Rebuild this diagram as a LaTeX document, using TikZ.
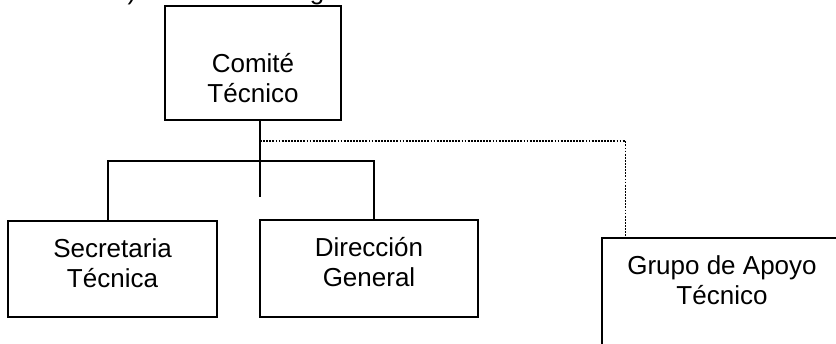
\documentclass[tikz,border=0pt]{standalone}
\usepackage{fontspec}
\setmainfont{Liberation Sans}
\begin{document}
\begin{tikzpicture}[x=1pt,y=-1pt,
  box/.style={draw=black, line width=1.1pt, rectangle, inner sep=0pt},
  txt/.style={font=\fontsize{26}{30}\selectfont, align=center, inner sep=0pt, text=black},
  ttl/.style={font=\fontsize{26}{30}\selectfont, inner sep=0pt, text=black},
  link/.style={draw=black, line width=1.1pt},
  dots/.style={draw=black, line width=1.6pt, dash pattern=on 1.8pt off 1.3pt}]
\useasboundingbox (0,0) rectangle (836,343);
% title (cut off at the top edge)
\node[ttl, anchor=base west] (num) at (113,-0.8) {3)};
\node[ttl, anchor=base west] (title) at (155,-0.8) {Estructura Organizacional actual};
% boxes
\node[box, minimum width=176pt, minimum height=114pt] (top) at (253,63) {};
\node[box, minimum width=209pt, minimum height=96pt] (sec) at (112.5,269) {};
\node[box, minimum width=218pt, minimum height=97pt] (dir) at (369,268.5) {};
\node[box, minimum width=240pt, minimum height=130pt] (apoyo) at (722,303) {};
% texts (anchor base = baseline of the last line)
\node[txt, anchor=base] (topT) at (253,102) {Comité\\Técnico};
\node[txt, anchor=base] (secT) at (112.5,287) {Secretaria\\Técnica};
\node[txt, anchor=base] (dirT) at (369,286) {Dirección\\General};
\node[txt, anchor=base] (apoT) at (722,304) {Grupo de Apoyo\\Técnico};
% connectors
\coordinate (stem) at ([xshift=7pt]top.south);
\coordinate (stemEnd) at (260,197);
\coordinate (tap) at (260,141);
\coordinate (busR) at (374,161);
\draw[link] (stem) -- (stemEnd);
\draw[link] ([xshift=-4.5pt]sec.north) |- (busR) -- ([xshift=5pt]dir.north);
\draw[dots] (tap) -| ([xshift=24pt]apoyo.north west);
\end{tikzpicture}
\end{document}
